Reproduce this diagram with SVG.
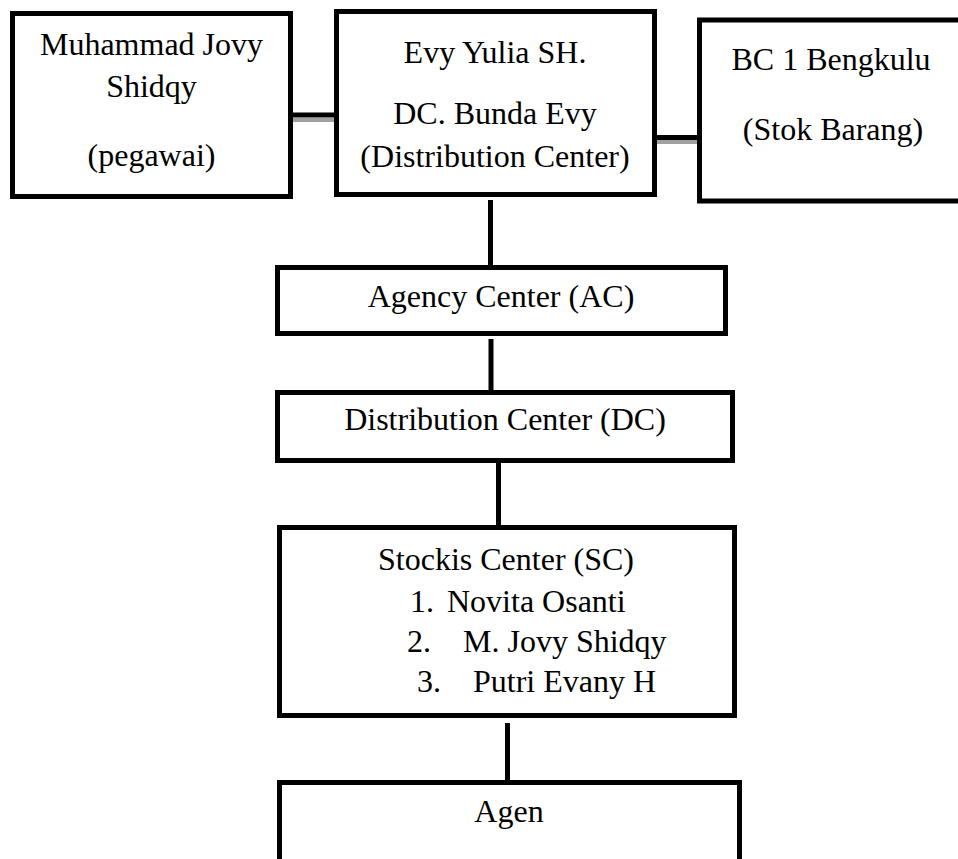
<svg xmlns="http://www.w3.org/2000/svg" width="958" height="859" viewBox="0 0 958 859">
<style>
.box{fill:#fff;stroke:#000;stroke-width:5}
.t{font-family:'Liberation Serif','DejaVu Serif',serif;font-size:32px;fill:#000}
.c{text-anchor:middle}
.ln{stroke:#000;stroke-width:5;fill:none}
.sh{stroke:#a0a0a0;stroke-width:4;fill:none}
</style>
<rect width="958" height="859" fill="#fff"/>
<g id="connectors">
<line class="sh" x1="293" y1="120" x2="335" y2="120"/>
<line class="ln" x1="293" y1="115" x2="335" y2="115"/>
<line class="sh" x1="657" y1="142" x2="697" y2="142"/>
<line class="ln" x1="657" y1="137.5" x2="697" y2="137.5"/>
<line class="ln" x1="490.5" y1="200" x2="490.5" y2="266"/>
<line class="ln" x1="491" y1="339" x2="491" y2="392"/>
<line class="ln" x1="498.5" y1="463" x2="498.5" y2="527"/>
<line class="ln" x1="507.5" y1="723" x2="507.5" y2="782"/>
</g>
<g id="pegawai">
<rect class="box" x="12.5" y="13.5" width="278" height="183"/>
<text class="t c" x="151.5" y="55">Muhammad Jovy</text>
<text class="t c" x="151.5" y="97">Shidqy</text>
<text class="t c" x="151.5" y="166">(pegawai)</text>
</g>
<g id="evy">
<rect class="box" x="336.5" y="11.5" width="318" height="183"/>
<text class="t c" x="495" y="63">Evy Yulia SH.</text>
<text class="t c" x="495" y="124">DC. Bunda Evy</text>
<text class="t c" x="495" y="167">(Distribution Center)</text>
</g>
<g id="bc1">
<rect class="box" x="699.5" y="20" width="300" height="181"/>
<text class="t c" x="831" y="70">BC 1 Bengkulu</text>
<text class="t c" x="833" y="140">(Stok Barang)</text>
</g>
<g id="ac">
<rect class="box" x="277.5" y="267.5" width="448" height="66"/>
<text class="t c" x="501" y="307">Agency Center (AC)</text>
</g>
<g id="dc">
<rect class="box" x="277.5" y="392.5" width="455" height="68"/>
<text class="t c" x="505" y="430">Distribution Center (DC)</text>
</g>
<g id="sc">
<rect class="box" x="279.5" y="527.5" width="455" height="188"/>
<text class="t c" x="506" y="570">Stockis Center (SC)</text>
<text class="t" x="410" y="612">1.</text>
<text class="t" x="447" y="612">Novita Osanti</text>
<text class="t" x="407" y="652">2.</text>
<text class="t" x="463" y="652">M. Jovy Shidqy</text>
<text class="t" x="417" y="692">3.</text>
<text class="t" x="473" y="692">Putri Evany H</text>
</g>
<g id="agen">
<rect class="box" x="279.5" y="782.5" width="460" height="120"/>
<text class="t c" x="509" y="822">Agen</text>
</g>
</svg>
